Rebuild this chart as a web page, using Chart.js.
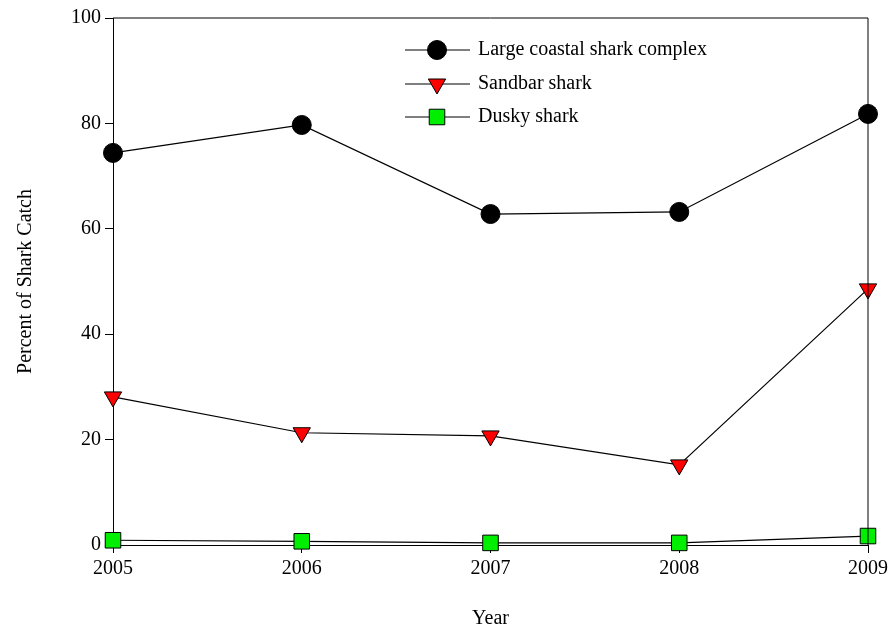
<!DOCTYPE html>
<html>
<head>
<meta charset="utf-8">
<script src="https://cdn.jsdelivr.net/npm/chart.js@4"></script>
<style>
  html, body { margin: 0; padding: 0; background: #fff; }
  #wrap { width: 894px; height: 635px; }
</style>
</head>
<body>
<div id="wrap"><canvas id="sharkChart"></canvas></div>
<script>
var years = [2005, 2006, 2007, 2008, 2009];
var largeCoastal = [74.4, 79.7, 62.8, 63.2, 81.8];
var sandbar = [28.1, 21.3, 20.7, 15.2, 48.6];
var dusky = [0.9, 0.7, 0.4, 0.4, 1.7];
var yTicks = [0, 20, 40, 60, 80, 100];

var seriesProps = [
    { label: 'Large coastal shark complex', data: largeCoastal, color: '#000000', style: 'circle', radius: 9.5 },
    { label: 'Sandbar shark', data: sandbar, color: '#ff0000', style: 'triangle', radius: 10, rotation: 180 },
    { label: 'Dusky shark', data: dusky, color: '#00ee00', style: 'rect', radius: 11 }
];

var font = { family: '"Liberation Serif", "Times New Roman", serif', size: 20 };

var datasets = seriesProps.map(function (s) {
    return {
        label: s.label,
        data: s.data.map(function (v, i) { return { x: years[i], y: v }; }),
        borderColor: '#000',
        borderWidth: 1.2,
        backgroundColor: s.color,
        pointBackgroundColor: s.color,
        pointBorderColor: '#000',
        pointBorderWidth: 1,
        pointStyle: s.style,
        pointRadius: s.radius,
        pointRotation: s.rotation || 0,
        clip: false
    };
});

// draws the top/right frame and the legend inside the plot
var framePlugin = {
    id: 'frame',
    afterDatasetsDraw: function (chart) {
        var ctx = chart.ctx, a = chart.chartArea;
        ctx.save();
        ctx.strokeStyle = '#000';
        ctx.lineWidth = 1;
        ctx.beginPath();
        ctx.moveTo(a.left, a.top); ctx.lineTo(a.right, a.top); ctx.lineTo(a.right, a.bottom);
        ctx.stroke();
        var rows = [50, 84, 117];
        ctx.font = '20px ' + font.family;
        ctx.textBaseline = 'middle';
        seriesProps.forEach(function (s, i) {
            var y = rows[i];
            ctx.strokeStyle = '#000';
            ctx.lineWidth = 1.2;
            ctx.beginPath(); ctx.moveTo(405, y); ctx.lineTo(470, y); ctx.stroke();
            ctx.fillStyle = s.color;
            ctx.strokeStyle = '#000';
            ctx.lineWidth = 1;
            Chart.helpers.drawPoint(ctx, { pointStyle: s.style, radius: s.radius, rotation: s.rotation || 0, borderWidth: 1 }, 437, y);
            ctx.fillStyle = '#000';
            ctx.fillText(s.label, 478, y);
        });
        ctx.restore();
    }
};

new Chart(document.getElementById('sharkChart'), {
    type: 'line',
    data: { datasets: datasets },
    options: {
        responsive: true,
        maintainAspectRatio: false,
        animation: false,
        layout: { padding: { top: 18, right: 26, left: 0, bottom: 0 } },
        plugins: { legend: { display: false }, tooltip: { enabled: false } },
        scales: {
            x: {
                type: 'linear',
                min: 2005, max: 2009,
                afterFit: function (s) { s.height = 90; },
                ticks: { stepSize: 1, color: '#000', font: font, padding: 4, callback: function (v) { return String(v); } },
                grid: { drawOnChartArea: false, tickLength: 8, color: '#000' },
                border: { color: '#000' },
                title: { display: true, text: 'Year', color: '#000', font: font, padding: { top: 30 } }
            },
            y: {
                min: 0, max: 100,
                afterFit: function (s) { s.width = 113; },
                afterBuildTicks: function (s) { s.ticks = yTicks.map(function (v) { return { value: v }; }); },
                ticks: { color: '#000', font: font, padding: 4 },
                grid: { drawOnChartArea: false, tickLength: 8, color: '#000' },
                border: { color: '#000' },
                title: { display: true, text: 'Percent of Shark Catch', color: '#000', font: font, padding: { top: 14, bottom: 20 } }
            }
        }
    },
    plugins: [framePlugin]
});
</script>
</body>
</html>
